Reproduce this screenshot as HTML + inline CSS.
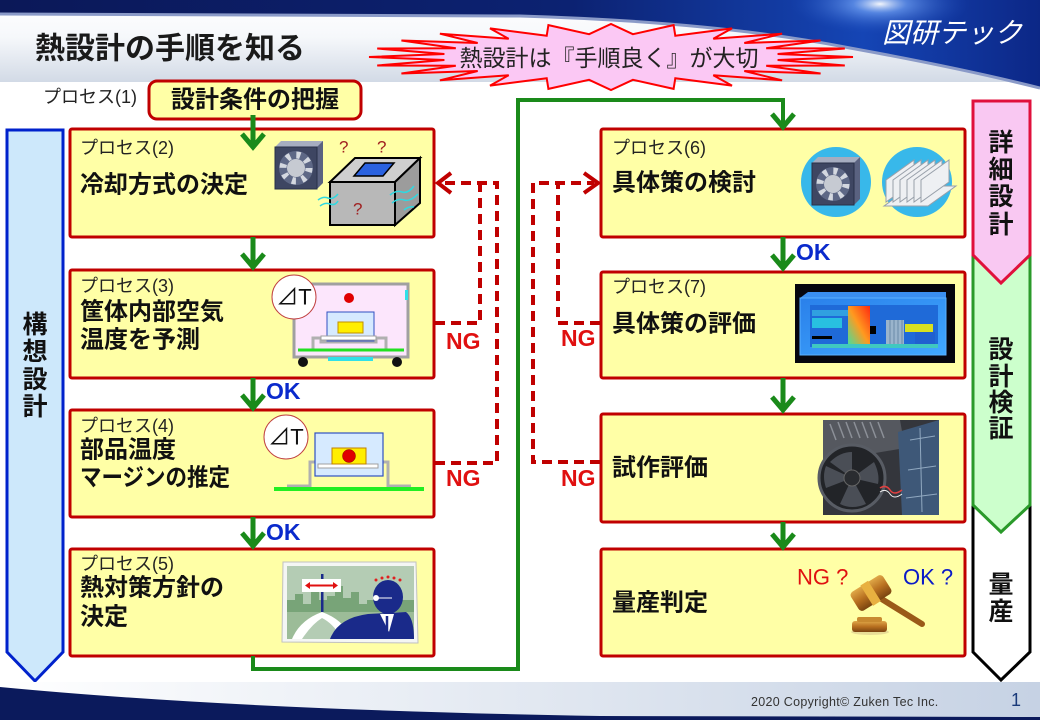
<!DOCTYPE html>
<html><head><meta charset="utf-8">
<style>
html,body{margin:0;padding:0;background:#fff;}
svg{display:block;}
text{font-family:"Liberation Sans","Noto Sans CJK JP",sans-serif;dominant-baseline:central;}
.b{font-weight:bold;font-size:24px;fill:#111;}
.p{font-size:18px;fill:#222;}
.v{font-weight:bold;font-size:25px;fill:#111;text-anchor:middle;}
.ok{font-weight:bold;font-size:23px;fill:#0a2acc;}
.ng{font-weight:bold;font-size:23px;fill:#e01010;}
</style></head><body>
<svg width="1040" height="720" viewBox="0 0 1040 720" xmlns="http://www.w3.org/2000/svg">
<defs>
  <linearGradient id="hl" x1="0" y1="0" x2="0" y2="1">
    <stop offset="0" stop-color="#ffffff"/><stop offset="0.45" stop-color="#f6f8fb"/><stop offset="1" stop-color="#d2dae6"/>
  </linearGradient>
  <linearGradient id="dk" x1="0" y1="0" x2="1" y2="0">
    <stop offset="0" stop-color="#0b1858"/><stop offset="0.55" stop-color="#0c2272"/><stop offset="0.83" stop-color="#1545b5"/><stop offset="1" stop-color="#0c2786"/>
  </linearGradient>
  <radialGradient id="glow" cx="0.5" cy="0.5" r="0.5">
    <stop offset="0" stop-color="#ffffff" stop-opacity="0.95"/><stop offset="0.3" stop-color="#7fb0ff" stop-opacity="0.6"/><stop offset="1" stop-color="#2050c0" stop-opacity="0"/>
  </radialGradient>
  <linearGradient id="ft" x1="0" y1="0" x2="1" y2="0">
    <stop offset="0" stop-color="#ffffff"/><stop offset="1" stop-color="#c6d2e4"/>
  </linearGradient>
  <linearGradient id="sim" x1="0" y1="0" x2="1" y2="1">
    <stop offset="0" stop-color="#2a80ea"/><stop offset="1" stop-color="#40a8ff"/>
  </linearGradient>
  <linearGradient id="hot" x1="1" y1="0" x2="0" y2="1">
    <stop offset="0" stop-color="#ff2a10"/><stop offset="0.5" stop-color="#ff9a20"/><stop offset="1" stop-color="#40e0a0"/>
  </linearGradient>
  <linearGradient id="wood" x1="0" y1="0" x2="0" y2="1">
    <stop offset="0" stop-color="#e0a848"/><stop offset="0.5" stop-color="#b87020"/><stop offset="1" stop-color="#7a4410"/>
  </linearGradient>
  <g id="fan">
    <rect x="6" y="0" width="42" height="42" fill="#8a92a8"/>
    <polygon points="0,6 6,0 48,0 42,6" fill="#a6adc0"/>
    <polygon points="42,6 48,0 48,42 42,48" fill="#5a6280"/>
    <rect x="0" y="6" width="42" height="42" fill="#3e4662" stroke="#283048" stroke-width="1"/>
    <circle cx="21" cy="27" r="17" fill="#5e6886"/>
    <circle cx="21" cy="27" r="13" fill="none" stroke="#d4d8e0" stroke-width="7" stroke-dasharray="4 6.2"/>
    <circle cx="21" cy="27" r="9" fill="#c6cad2"/>
  </g>
</defs>

<!-- header -->
<rect x="0" y="0" width="1040" height="82" fill="url(#hl)"/>
<path d="M0,0 H1040 V88 Q960,68 850,48 Q720,22 520,16 L0,14 Z" fill="url(#dk)"/>
<ellipse cx="880" cy="4" rx="90" ry="30" fill="url(#glow)"/>
<path d="M0,14 L520,16 Q720,22 850,48 Q960,68 1040,88" fill="none" stroke="#8a9ac8" stroke-width="3"/>
<text x="882" y="33" style="font-size:28px;font-style:italic;fill:#ffffff;">図研テック</text>

<text x="35" y="49" style="font-size:30px;font-weight:bold;fill:#1a1a1a;">熱設計の手順を知る</text>

<!-- starburst -->
<polygon fill="#fbc8f4" stroke="#ff0000" stroke-width="2" stroke-linejoin="miter"
 points="853,57 777.6,60 844.8,65.5 766.2,65.8 820.6,73.5 744.3,71 782.1,80.3 713.3,75.2 732,85.6 675.3,78.2 673.6,88.9 632.9,79.8 611,90 589.1,79.8 548.4,88.9 546.7,78.2 490,85.6 508.7,75.2 439.9,80.3 477.7,71 401.4,73.5 455.8,65.8 377.2,65.5 444.4,60 369,57 444.4,54 377.2,48.5 455.8,48.2 401.4,40.5 477.7,43 439.9,33.7 508.7,38.8 490,28.4 546.7,35.8 548.4,25.1 589.1,34.2 611,24 632.9,34.2 673.6,25.1 675.3,35.8 732,28.4 713.3,38.8 782.1,33.7 744.3,43 820.6,40.5 766.2,48.2 844.8,48.5 777.6,54"/>
<text x="609" y="58" text-anchor="middle" style="font-size:23px;fill:#222;">熱設計は『手順良く』が大切</text>

<!-- process 1 -->
<text x="43" y="97" class="p">プロセス(1)</text>
<rect x="149" y="81" width="212" height="38" rx="8" fill="#ffffa6" stroke="#c00000" stroke-width="3"/>
<text x="255" y="100" text-anchor="middle" class="b">設計条件の把握</text>

<!-- left phase arrow -->
<polygon points="7,130 63,130 63,652 35,681 7,652" fill="#cde8fb" stroke="#0022cc" stroke-width="3"/>
<text x="35" y="325" class="v">構</text>
<text x="35" y="352" class="v">想</text>
<text x="35" y="380" class="v">設</text>
<text x="35" y="407" class="v">計</text>

<!-- right phase arrows -->
<polygon points="973,495 1030,495 1030,652 1001,680 973,652" fill="#ffffff" stroke="#000" stroke-width="3"/>
<polygon points="973,245 1030,245 1030,505 1001,532 973,505" fill="#ccffcc" stroke="#2a9a2a" stroke-width="3"/>
<polygon points="973,101 1030,101 1030,255 1001,283 973,255" fill="#f9c8f2" stroke="#e0103c" stroke-width="3"/>
<text x="1001" y="143" class="v">詳</text>
<text x="1001" y="170" class="v">細</text>
<text x="1001" y="197" class="v">設</text>
<text x="1001" y="225" class="v">計</text>
<text x="1001" y="350" class="v">設</text>
<text x="1001" y="377" class="v">計</text>
<text x="1001" y="403" class="v">検</text>
<text x="1001" y="429" class="v">証</text>
<text x="1001" y="585" class="v">量</text>
<text x="1001" y="612" class="v">産</text>

<!-- boxes -->
<g fill="#ffffa6" stroke="#c00000" stroke-width="3">
  <rect x="70" y="129" width="364" height="108" rx="2"/>
  <rect x="70" y="270" width="364" height="108" rx="2"/>
  <rect x="70" y="410" width="364" height="107" rx="2"/>
  <rect x="70" y="549" width="364" height="107" rx="2"/>
  <rect x="601" y="129" width="364" height="108" rx="2"/>
  <rect x="601" y="272" width="364" height="106" rx="2"/>
  <rect x="601" y="414" width="364" height="108" rx="2"/>
  <rect x="601" y="549" width="364" height="107" rx="2"/>
</g>

<!-- box texts -->
<text x="80" y="148" class="p">プロセス(2)</text>
<text x="80" y="185" class="b">冷却方式の決定</text>
<text x="80" y="286" class="p">プロセス(3)</text>
<text x="80" y="312" class="b">筐体内部空気</text>
<text x="80" y="340" class="b">温度を予測</text>
<text x="80" y="426" class="p">プロセス(4)</text>
<text x="80" y="450" class="b">部品温度</text>
<text x="80" y="478" class="b" textLength="150" lengthAdjust="spacingAndGlyphs">マージンの推定</text>
<text x="80" y="564" class="p">プロセス(5)</text>
<text x="80" y="588" class="b">熱対策方針の</text>
<text x="80" y="617" class="b">決定</text>

<text x="612" y="148" class="p">プロセス(6)</text>
<text x="612" y="183" class="b">具体策の検討</text>
<text x="612" y="287" class="p">プロセス(7)</text>
<text x="612" y="324" class="b">具体策の評価</text>
<text x="612" y="468" class="b">試作評価</text>
<text x="612" y="603" class="b">量産判定</text>

<!-- box2 illustration -->
<use href="#fan" transform="translate(275,141)"/>
<polygon points="330,182 355,158 420,158 395,182" fill="#cfcfcf" stroke="#000" stroke-width="2"/>
<polygon points="395,182 420,158 420,203 395,225" fill="#9c9c9c" stroke="#000" stroke-width="2"/>
<rect x="330" y="182" width="65" height="43" fill="#b8b8b8" stroke="#000" stroke-width="2"/>
<polygon points="354,176 365,163 394,163 383,176" fill="#2a62e0" stroke="#000" stroke-width="1.5"/>
<g fill="none" stroke="#30d8e0" stroke-width="1.5">
  <path d="M318,200 q5,-4 10,-2 t10,-4"/><path d="M320,206 q5,-4 10,-2 t8,-3"/>
  <path d="M390,195 q6,-5 12,-3 t12,-6"/><path d="M392,203 q6,-5 12,-3 t14,-6"/><path d="M404,210 q5,-4 10,-3"/>
</g>
<g style="font-size:17px;fill:#a02020;">
  <text x="339" y="147">?</text><text x="377" y="147">?</text><text x="353" y="209">?</text>
</g>

<!-- box3 illustration -->
<rect x="294" y="284" width="114" height="73" fill="#fce6fc" stroke="#a0a0a0" stroke-width="3"/>
<rect x="405" y="290" width="3" height="10" fill="#30e0e8"/>
<circle cx="349" cy="298" r="5" fill="#e00000"/>
<polyline points="313,350 313,338 321,338 321,342 376,342 376,338 386,338 386,350" fill="none" stroke="#b0b0b0" stroke-width="3"/>
<rect x="327" y="312" width="47" height="29" fill="#d6eaff" stroke="#3050c0" stroke-width="1"/>
<rect x="321" y="336" width="55" height="4" fill="#fff" stroke="#a0a0a0" stroke-width="1"/>
<rect x="338" y="322" width="25" height="11" fill="#ffee00" stroke="#c09000" stroke-width="1"/>
<line x1="298" y1="350" x2="404" y2="350" stroke="#22e022" stroke-width="3"/>
<rect x="328" y="357" width="45" height="4" fill="#30e0e8"/>
<circle cx="303" cy="362" r="5" fill="#111"/><circle cx="397" cy="362" r="5" fill="#111"/>
<circle cx="294" cy="297" r="22" fill="#fff" stroke="#c04040" stroke-width="1"/>
<text x="294" y="297" text-anchor="middle" style="font-size:22px;fill:#111;">⊿T</text>

<!-- box4 illustration -->
<polyline points="287,486 310,486 310,462 318,462" fill="none" stroke="#b0b0b0" stroke-width="3"/>
<polyline points="378,462 388,462 388,486 411,486" fill="none" stroke="#b0b0b0" stroke-width="3"/>
<rect x="315" y="433" width="68" height="43" fill="#d6eaff" stroke="#3050c0" stroke-width="1.2"/>
<rect x="318" y="464" width="60" height="4" fill="#fff" stroke="#a0a0a0" stroke-width="1"/>
<rect x="332" y="448" width="34" height="16" fill="#ffee00" stroke="#c08000" stroke-width="1"/>
<circle cx="349" cy="456" r="6.5" fill="#e00000" stroke="#800" stroke-width="0.5"/>
<line x1="274" y1="489" x2="424" y2="489" stroke="#22ee22" stroke-width="4"/>
<circle cx="286" cy="437" r="22" fill="#fff" stroke="#c04040" stroke-width="1"/>
<text x="286" y="437" text-anchor="middle" style="font-size:22px;fill:#111;">⊿T</text>

<!-- box5 illustration -->
<polygon points="283,562 416,562 418,643 282,642" fill="#f4f6f4" stroke="#c0c0c0" stroke-width="1"/>
<rect x="287" y="566" width="127" height="73" fill="#b4ccb4"/>
<path d="M287,612 V600 H295 V594 H303 V604 H311 V590 H319 V600 H327 V596 H335 V586 H343 V598 H351 V592 H359 V604 H367 V600 H414 V639 H287 Z" fill="#78a478"/>
<rect x="287" y="612" width="127" height="27" fill="#9cbc98"/>
<path d="M292,639 Q300,620 322,612 Q344,620 352,639 Z" fill="#ffffff"/>
<path d="M302,639 Q312,624 322,618 Q334,624 342,639 Z" fill="#b4ccb4"/>
<rect x="321" y="574" width="2.5" height="38" fill="#1a2a8a"/>
<rect x="302" y="579" width="39" height="13" fill="#ffffff"/>
<line x1="308" y1="585.5" x2="335" y2="585.5" stroke="#e01010" stroke-width="2"/>
<polygon points="305,585.5 310,582 310,589" fill="#e01010"/><polygon points="338,585.5 333,582 333,589" fill="#e01010"/>
<path d="M330,639 Q338,618 368,614 L406,612 Q414,618 414,639 Z" fill="#1a2a8a"/>
<ellipse cx="388" cy="597" rx="15" ry="17" fill="#1a2a8a"/>
<polygon points="380,614 394,614 389,632" fill="#ffffff"/>
<line x1="387" y1="616" x2="387" y2="630" stroke="#1a2a8a" stroke-width="2.5"/>
<circle cx="376" cy="598" r="3" fill="#fff"/><line x1="378" y1="598" x2="392" y2="598" stroke="#fff" stroke-width="1"/>
<g fill="#e02020"><circle cx="376" cy="580" r="1.5"/><circle cx="382" cy="578" r="1.5"/><circle cx="388" cy="577" r="1.5"/><circle cx="394" cy="578" r="1.5"/><circle cx="400" cy="580" r="1.5"/></g>

<!-- box6 illustration -->
<circle cx="836" cy="182" r="35" fill="#38b8ea"/>
<circle cx="917" cy="182" r="35" fill="#38b8ea"/>
<use href="#fan" transform="translate(812,157)"/>
<g fill="#eef0f3" stroke="#98a0aa" stroke-width="1">
  <polygon points="884,206 928,206 956,186 912,186"/>
  <polygon points="886,202 886,180 914,160 914,182"/>
  <polygon points="893,202 893,180 921,160 921,182"/>
  <polygon points="900,202 900,180 928,160 928,182"/>
  <polygon points="907,202 907,180 935,160 935,182"/>
  <polygon points="914,202 914,180 942,160 942,182"/>
  <polygon points="921,202 921,180 949,160 949,182"/>
</g>

<!-- box7 illustration -->
<rect x="795" y="284" width="160" height="79" fill="#06060e"/>
<polygon points="800,298 808,292 946,292 946,298" fill="#3a8ef0"/>
<rect x="800" y="298" width="146" height="57" fill="url(#sim)" stroke="#5ab0ff" stroke-width="1"/>
<rect x="810" y="305" width="128" height="42" fill="#1f6ad8"/>
<rect x="812" y="310" width="36" height="6" fill="#30a0e0"/>
<rect x="812" y="318" width="30" height="10" fill="#28c0e0"/>
<rect x="848" y="306" width="22" height="40" fill="url(#hot)"/>
<rect x="812" y="336" width="20" height="3" fill="#000"/>
<rect x="870" y="326" width="6" height="8" fill="#000"/>
<rect x="886" y="320" width="18" height="28" fill="#9ab4cc"/>
<g stroke="#6a8aa8" stroke-width="1"><line x1="890" y1="320" x2="890" y2="348"/><line x1="894" y1="320" x2="894" y2="348"/><line x1="898" y1="320" x2="898" y2="348"/><line x1="902" y1="320" x2="902" y2="348"/></g>
<rect x="905" y="324" width="28" height="8" fill="#d8e020"/>
<rect x="915" y="332" width="20" height="12" fill="#2060d0"/>
<rect x="812" y="344" width="126" height="4" fill="#40c8c0"/>

<!-- box8 illustration -->
<rect x="823" y="420" width="116" height="95" fill="#34363c"/>
<polygon points="823,420 900,420 905,448 823,462" fill="#55585f"/>
<g stroke="#8c9098" stroke-width="1.5"><line x1="830" y1="424" x2="836" y2="440"/><line x1="838" y1="422" x2="844" y2="438"/><line x1="846" y1="422" x2="852" y2="438"/><line x1="854" y1="422" x2="860" y2="438"/><line x1="862" y1="422" x2="868" y2="438"/><line x1="870" y1="422" x2="876" y2="438"/><line x1="878" y1="422" x2="884" y2="438"/></g>
<polygon points="898,432 939,420 939,515 902,515" fill="#3e5878"/>
<g stroke="#90a8c0" stroke-width="1"><line x1="910" y1="440" x2="935" y2="436"/><line x1="908" y1="470" x2="936" y2="466"/><line x1="906" y1="498" x2="937" y2="494"/><line x1="920" y1="428" x2="922" y2="512"/></g>
<circle cx="852" cy="478" r="33" fill="#222428" stroke="#585c64" stroke-width="3"/>
<g fill="#4a4e56"><path d="M852,478 L830,462 Q840,452 852,452 Z"/><path d="M852,478 L874,462 Q880,474 878,484 Z"/><path d="M852,478 L866,504 Q852,510 840,504 Z"/><path d="M852,478 L826,488 Q822,476 826,466 Z"/></g>
<circle cx="852" cy="478" r="8" fill="#2a2c30" stroke="#666" stroke-width="1"/>
<path d="M880,488 q6,-4 10,2 t12,0" fill="none" stroke="#e04040" stroke-width="1.5"/>
<path d="M880,492 q6,-4 10,2 t12,0" fill="none" stroke="#f0f0f0" stroke-width="1"/>

<!-- box9 -->
<text x="797" y="577" style="font-size:22px;fill:#e01010;">NG ?</text>
<text x="903" y="577" style="font-size:22px;fill:#0a1ac8;">OK ?</text>
<ellipse cx="870" cy="632" rx="19" ry="3" fill="#d8c890" opacity="0.6"/>
<rect x="852" y="621" width="35" height="11" rx="3" fill="url(#wood)"/>
<rect x="857" y="617" width="25" height="5" rx="2" fill="#c88a30"/>
<line x1="880" y1="598" x2="922" y2="624" stroke="#9a5a18" stroke-width="6" stroke-linecap="round"/>
<g transform="rotate(-32 871 593)">
  <rect x="852" y="582" width="38" height="22" rx="4" fill="url(#wood)"/>
  <rect x="866" y="581" width="9" height="24" fill="#e8b040"/>
</g>

<!-- green arrows -->
<g fill="none" stroke="#1a8a1a" stroke-width="5" stroke-linejoin="miter">
  <line x1="253" y1="115" x2="253" y2="146"/><polyline points="242,134 253,147 264,134"/>
  <line x1="253" y1="237" x2="253" y2="266"/><polyline points="242,254 253,267 264,254"/>
  <line x1="253" y1="378" x2="253" y2="407"/><polyline points="242,395 253,408 264,395"/>
  <line x1="253" y1="517" x2="253" y2="545"/><polyline points="242,533 253,546 264,533"/>
  <line x1="783" y1="237" x2="783" y2="267"/><polyline points="772,255 783,268 794,255"/>
  <line x1="783" y1="378" x2="783" y2="409"/><polyline points="772,397 783,410 794,397"/>
  <line x1="783" y1="522" x2="783" y2="546"/><polyline points="772,534 783,547 794,534"/>
</g>
<path d="M253,656 V669 H518 V100 H783 V125" fill="none" stroke="#1a8a1a" stroke-width="4"/>
<polyline points="772,114 783,127 794,114" fill="none" stroke="#1a8a1a" stroke-width="5"/>

<!-- OK labels -->
<text x="266" y="391" class="ok">OK</text>
<text x="266" y="532" class="ok">OK</text>
<text x="796" y="252" class="ok">OK</text>

<!-- NG dashed connectors -->
<g fill="none" stroke="#c00000" stroke-width="4" stroke-dasharray="10 6">
  <path d="M435,323 H480 V183"/>
  <path d="M435,463 H497 V183 H442"/>
  <path d="M600,323 H558 V183"/>
  <path d="M600,462 H533 V183 H594"/>
</g>
<polyline points="451,173 438,183 451,193" fill="none" stroke="#c00000" stroke-width="4"/>
<polyline points="584,173 598,183 584,193" fill="none" stroke="#c00000" stroke-width="4"/>
<text x="446" y="341" class="ng">NG</text>
<text x="446" y="478" class="ng">NG</text>
<text x="561" y="338" class="ng">NG</text>
<text x="561" y="478" class="ng">NG</text>

<!-- footer -->
<rect x="0" y="682" width="1040" height="38" fill="url(#ft)"/>
<path d="M0,687 Q240,710 600,716 L1040,717 V720 H0 Z" fill="#0b1a5c"/>
<text x="751" y="702" style="font-size:12.5px;fill:#333;letter-spacing:0.3px;">2020 Copyright© Zuken Tec Inc.</text>
<text x="1011" y="700" style="font-size:18px;fill:#1a3a7a;">1</text>
</svg>
</body></html>
